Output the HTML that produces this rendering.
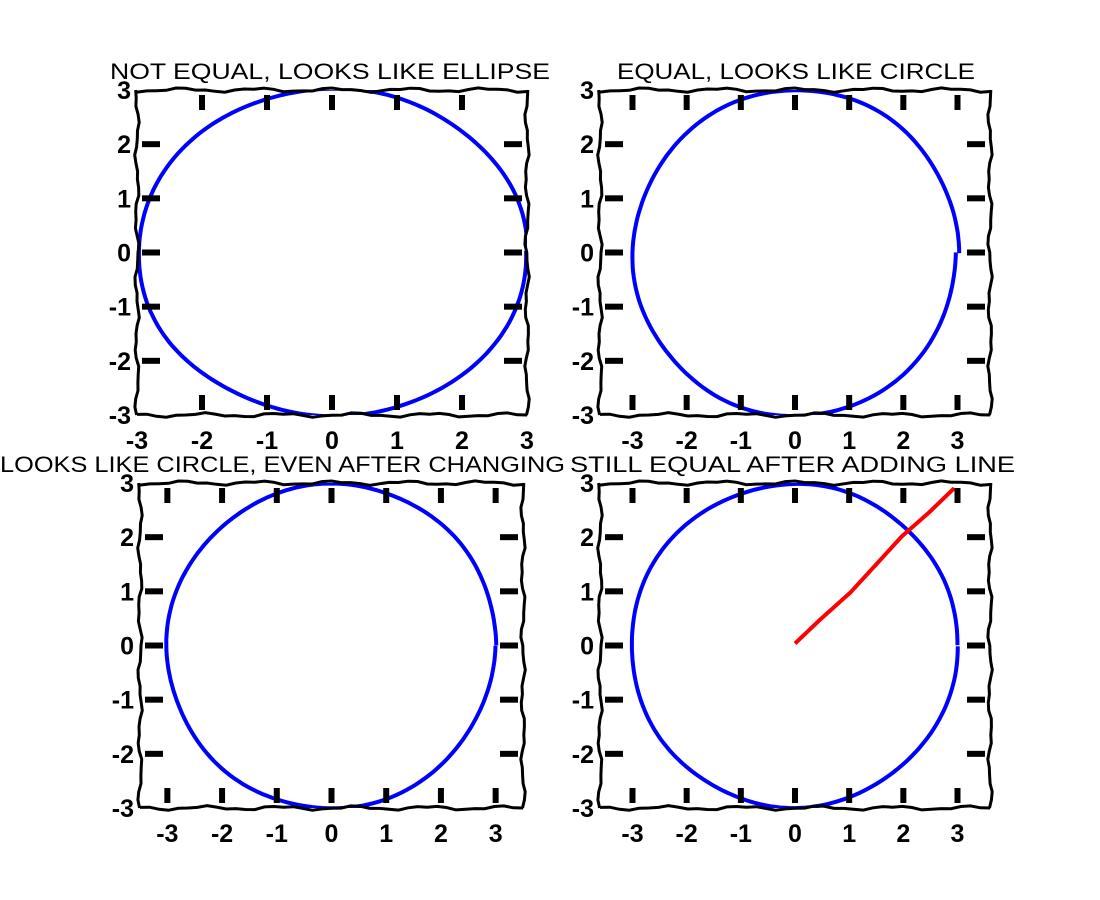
<!DOCTYPE html>
<html>
<head>
<meta charset="utf-8">
<style>
html,body{margin:0;padding:0;background:#fff;}
svg{display:block;}
text{font-family:"Liberation Sans",sans-serif;fill:#000;}
</style>
</head>
<body>
<svg id="chart" width="1100" height="900" viewBox="0 0 1100 900" xmlns="http://www.w3.org/2000/svg"></svg>
<script>
const tickValues = [-3, -2, -1, 0, 1, 2, 3];
const tickLabels = ["-3", "-2", "-1", "0", "1", "2", "3"];
const circleRadius = [3];
const lineX = [0, 0.5, 1, 1.5, 2, 2.5, 2.9];
const lineY = [0, 0.5, 1, 1.5, 2, 2.5, 2.9];
const titles = ["NOT EQUAL, LOOKS LIKE ELLIPSE", "EQUAL, LOOKS LIKE CIRCLE", "LOOKS LIKE CIRCLE, EVEN AFTER CHANGING", "STILL EQUAL AFTER ADDING LINE"];

const NS = "http://www.w3.org/2000/svg";
const svg = document.getElementById("chart");
function mk(tag, attrs, parent) {
  const e = document.createElementNS(NS, tag);
  for (const k in attrs) e.setAttribute(k, attrs[k]);
  (parent || svg).appendChild(e);
  return e;
}
function wig(t, s) { return 1.6 * Math.sin(t * 0.09 + s) + 0.8 * Math.sin(t * 0.23 + s * 2); }

const panels = [
  {box:[137,90,527,415], xr:[-3,3], yr:[-3,3], title:[110,550,72], line:false, name:"top-left"},
  {box:[600,90,990,415], xr:[-3.6,3.6], yr:[-3,3], title:[617,975,72], line:false, name:"top-right"},
  {box:[140,483,523,808], xr:[-3.5,3.5], yr:[-3,3], title:[0,565,465], line:false, name:"bottom-left"},
  {box:[600,483,990,808], xr:[-3.6,3.6], yr:[-3,3], title:[570,1015,465], line:true, name:"bottom-right"}
];

panels.forEach((p, pi) => {
  const [x0,y0,x1,y1] = p.box;
  const g = mk("g", {});
  
  
  const sx = v => x0 + (v - p.xr[0]) / (p.xr[1] - p.xr[0]) * (x1 - x0);
  const sy = v => y1 - (v - p.yr[0]) / (p.yr[1] - p.yr[0]) * (y1 - y0);
  const clipId = "clip" + pi;
  const cp = mk("clipPath", {id: clipId}, g);
  mk("rect", {x:x0, y:y0, width:x1-x0, height:y1-y0}, cp);
  let d = "";
  const r = circleRadius[0];
  for (let i = 0; i <= 200; i++) {
    const th = i / 200 * 2 * Math.PI;
    const px = sx(r * Math.cos(th)) + 0.8*wig(i*0.9, pi), py = sy(r * Math.sin(th)) + 0.8*wig(i*0.9, pi+1);
    d += (i ? "L" : "M") + px.toFixed(1) + "," + py.toFixed(1);
  }
  const c = mk("path", {d:d, fill:"none", stroke:"#0000ff", "stroke-width":4, "clip-path":"url(#"+clipId+")"}, g);
  
  
  if (p.line) {
    let d2 = "";
    lineX.forEach((v, i) => { d2 += (i ? "L" : "M") + (sx(v)+wig(i*20,3)).toFixed(1) + "," + (sy(lineY[i])+wig(i*20,5)).toFixed(1); });
    const l = mk("path", {d:d2, fill:"none", stroke:"#ff0000", "stroke-width":4, "stroke-linejoin":"round"}, g);
    
    
  }
  const seg = (ax, ay, bx, by, s) => {
    let out = "";
    for (let i = 0; i <= 40; i++) {
      const t = i/40; const x = ax + (bx-ax)*t, y = ay + (by-ay)*t;
      const w = wig(i*9, s);
      out += (i ? "L" : "M") + (x + (ax===bx ? w : 0)).toFixed(1) + "," + (y + (ay===by ? w : 0)).toFixed(1);
    }
    return out;
  };
  const fd = seg(x0,y0,x1,y0,1) + seg(x1,y0,x1,y1,2) + seg(x1,y1,x0,y1,3) + seg(x0,y1,x0,y0,4);
  const f = mk("path", {d:fd, fill:"none", stroke:"#000", "stroke-width":3}, g);
  
  
  tickValues.forEach((v, i) => {
    const x = sx(v);
    if (x > x0 + 8 && x < x1 - 8) {
      [y0+5, y1-20].forEach(yy => {
        const t = mk("rect", {x:x-3, y:yy, width:6, height:15, fill:"#000"}, g);
        
        
      });
    }
    const y = sy(v);
    if (y > y0 + 8 && y < y1 - 8) {
      [x0+5, x1-23].forEach(xx => {
        const t = mk("rect", {x:xx, y:y-3, width:18, height:6, fill:"#000"}, g);
        
        
      });
    }
    const xl = mk("text", {x:x, y:y1+34, "font-size":25, "font-weight":"bold", "text-anchor":"middle"}, g);
    xl.textContent = tickLabels[i];
    
    
    const yl = mk("text", {x:x0-6, y:y+9, "font-size":25, "font-weight":"bold", "text-anchor":"end"}, g);
    yl.textContent = tickLabels[i];
    
    
  });
  const tt = mk("text", {x:p.title[0], y:p.title[2]+7, "font-size":22, textLength:p.title[1]-p.title[0], lengthAdjust:"spacingAndGlyphs"}, g);
  tt.textContent = titles[pi];
  
  
});
</script>
</body>
</html>
